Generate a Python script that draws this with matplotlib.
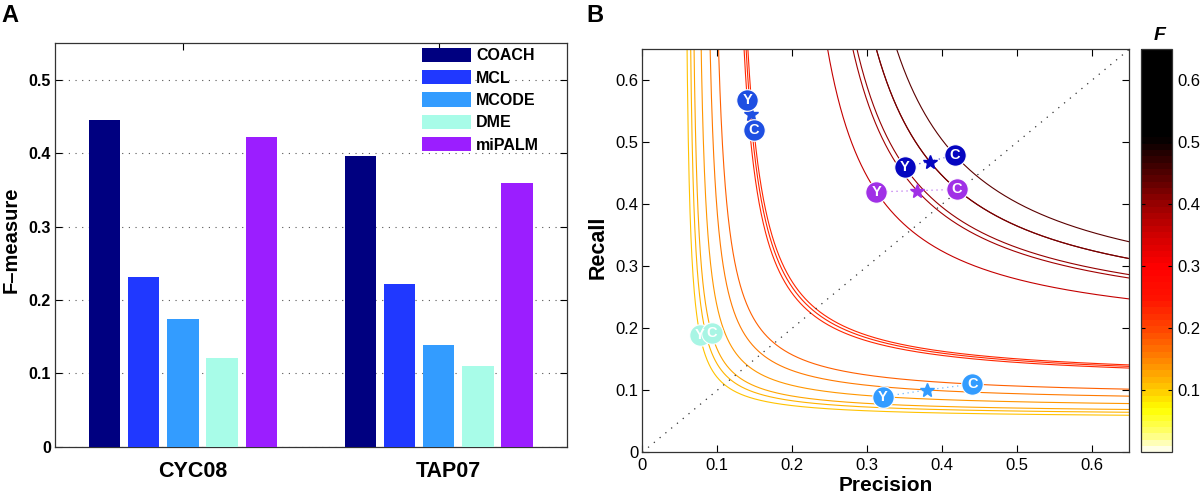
import numpy as np
import matplotlib
matplotlib.use("Agg")
import matplotlib.pyplot as plt
import matplotlib.transforms as mtransforms
from matplotlib.colors import ListedColormap, LinearSegmentedColormap, Normalize
from matplotlib.cm import ScalarMappable

plt.rcParams['font.family'] = ['Liberation Sans', 'DejaVu Sans']

# ---------------- data ----------------
methods = ['COACH', 'MCL', 'MCODE', 'DME', 'miPALM']
datasets = ['CYC08', 'TAP07']
fmeasure_cyc08 = [0.445, 0.231, 0.174, 0.121, 0.422]
fmeasure_tap07 = [0.397, 0.222, 0.138, 0.110, 0.359]
bar_colors = ['#000080', '#2038FF', '#339CFF', '#A8FCE8', '#9B1EFF']
marker_colors = ['#0505C0', '#1E4FE2', '#339CFF', '#A8F5E4', '#A030E6']

# panel B: precision / recall of each method ("Y" and "C" points, star = mid)
prec_Y = [0.350, 0.140, 0.321, 0.077, 0.3125]
rec_Y = [0.4606, 0.569, 0.0897, 0.189, 0.420]
prec_C = [0.417, 0.149, 0.4405, 0.0925, 0.420]
rec_C = [0.4795, 0.520, 0.110, 0.192, 0.424]
prec_star = [0.3836, 0.1445, 0.380, 0.085, 0.3667]
rec_star = [0.469, 0.545, 0.1005, 0.190, 0.422]

cbar_ticks = [0.1, 0.2, 0.3, 0.4, 0.5, 0.6]
pr_ticks = [0, 0.1, 0.2, 0.3, 0.4, 0.5, 0.6]
f_ticks = [0, 0.1, 0.2, 0.3, 0.4, 0.5]

# colour scale of F (anchors)
cmap_F = [0.00, 0.03, 0.07, 0.10, 0.15, 0.20, 0.25, 0.30, 0.35, 0.40, 0.45, 0.51, 0.65]
cmap_rgb = [(1, 1, 1), (1, 1, 0.45), (1, 1, 0), (1, 0.80, 0), (1, 0.52, 0),
            (1, 0.27, 0), (1, 0.07, 0), (1, 0, 0), (0.82, 0, 0), (0.6, 0, 0),
            (0.32, 0, 0), (0, 0, 0), (0, 0, 0)]
F_max = 0.65

# ---------------- figure ----------------
W, H = 1200, 500
fig = plt.figure(figsize=(12, 5), dpi=100)


def fx(px):
    return px / W


def fy(py):
    return 1 - py / H


# ---------- Panel A ----------
axA = fig.add_axes([fx(55), fy(446.7), fx(566.7 - 55), (446.7 - 43.3) / H])
slot = 0.153
bw = 0.1225
x = np.array([1, 2])
handles = []
for k, m in enumerate(methods):
    vals = [fmeasure_cyc08[k], fmeasure_tap07[k]]
    b = axA.bar(x + (k - 2) * slot, vals, width=bw, color=bar_colors[k],
                edgecolor='none', label=m, zorder=3)
    handles.append(b)
axA.set_xlim(0.5, 2.5)
axA.set_ylim(0, 0.55)
axA.set_yticks(f_ticks)
axA.set_yticklabels(['0', '0.1', '0.2', '0.3', '0.4', '0.5'])
axA.set_xticks(x)
axA.set_xticklabels(datasets)
axA.yaxis.grid(True, linestyle=(0, (1, 5)), color='#555555', linewidth=0.8)
axA.set_axisbelow(True)
axA.tick_params(direction='in', top=True, right=True, length=5, width=0.8)
axA.tick_params(axis='y', labelsize=11.5, pad=3)
axA.tick_params(axis='x', labelsize=15.5, pad=10)
for lab in axA.get_yticklabels():
    lab.set_fontweight('bold')
offset = mtransforms.ScaledTranslation(0.10, 0, fig.dpi_scale_trans)
for lab in axA.get_xticklabels():
    lab.set_fontweight('bold')
    lab.set_transform(lab.get_transform() + offset)
for sp in axA.spines.values():
    sp.set_linewidth(0.9)
    sp.set_color('#333333')

leg = axA.legend(handles=handles, loc='upper left',
                 bbox_to_anchor=(fx(421.7), fy(47.7)),
                 bbox_transform=fig.transFigure, frameon=False,
                 borderpad=0, borderaxespad=0, handlelength=3.1,
                 handleheight=1.0, handletextpad=0.3, labelspacing=0.42,
                 prop={'weight': 'bold', 'size': 11.5})

fig.text(fx(11), fy(240), 'F\u2013measure', rotation=90, ha='center',
         va='center', fontsize=14.5, fontweight='bold')
fig.text(fx(1), fy(4), 'A', ha='left', va='top', fontsize=17,
         fontweight='bold')

# ---------- Panel B ----------
axB = fig.add_axes([fx(642.3), fy(452.3), fx(1129.3 - 642.3),
                    (452.3 - 49.3) / H])
smooth = LinearSegmentedColormap.from_list(
    'fcmap', list(zip([f / F_max for f in cmap_F], cmap_rgb)))
N = 64
cmap = ListedColormap(smooth((np.arange(N) + 0.5) / N))
norm = Normalize(0, F_max)

# iso-F curves through every point
pts_P = prec_Y + prec_C + prec_star
pts_R = rec_Y + rec_C + rec_star
for P0, R0 in zip(pts_P, pts_R):
    F = 2 * P0 * R0 / (P0 + R0)
    pmin = F * 0.7 / (1.4 - F)
    P = np.linspace(pmin, 0.66, 1500)
    R = F * P / (2 * P - F)
    axB.plot(P, R, color=cmap(norm(F)), linewidth=0.8, zorder=2)

axB.plot([0, 0.65], [0, 0.65], linestyle=(0, (1, 5)), color='#333333',
         linewidth=0.9, zorder=3)

for k in range(len(methods)):
    c = marker_colors[k]
    axB.plot([prec_Y[k], prec_star[k], prec_C[k]],
             [rec_Y[k], rec_star[k], rec_C[k]], linestyle=(0, (1, 3)),
             color=c, linewidth=0.9, alpha=0.7, zorder=4)
    axB.plot(prec_star[k], rec_star[k], marker='*', markersize=10,
             color=c, markeredgecolor=c, linestyle='none', zorder=5)
    for P0, R0, letter in [(prec_Y[k], rec_Y[k], 'Y'),
                           (prec_C[k], rec_C[k], 'C')]:
        axB.plot(P0, R0, marker='o', markersize=15.5, color=c,
                 markeredgecolor='white', markeredgewidth=0.8,
                 linestyle='none', zorder=6)
        axB.text(P0, R0, letter, color='white', fontsize=10.5,
                 fontweight='bold', ha='center', va='center', zorder=7)

axB.set_xlim(0, 0.65)
axB.set_ylim(0, 0.65)
axB.set_xticks(pr_ticks)
axB.set_yticks(pr_ticks)
labs = ['0', '0.1', '0.2', '0.3', '0.4', '0.5', '0.6']
axB.set_xticklabels(labs)
axB.set_yticklabels(labs)
axB.tick_params(direction='in', top=True, right=True, length=5, width=0.8,
                labelsize=12)
axB.tick_params(axis='x', pad=4)
axB.tick_params(axis='y', pad=3)
for sp in axB.spines.values():
    sp.set_linewidth(0.9)
    sp.set_color('#333333')

fig.text(fx(885.8), fy(491), 'Precision', ha='center', va='baseline',
         fontsize=15, fontweight='bold')
fig.text(fx(598), fy(247), 'Recall', ha='center', va='center',
         rotation=90, fontsize=15.5, fontweight='bold')
fig.text(fx(586), fy(4), 'B', ha='left', va='top', fontsize=17,
         fontweight='bold')

# ---------- colorbar ----------
cax = fig.add_axes([fx(1140.7), fy(452.3), fx(31), (452.3 - 49.3) / H])
sm = ScalarMappable(norm=norm, cmap=cmap)
cb = fig.colorbar(sm, cax=cax)
cb.set_ticks(cbar_ticks)
cb.set_ticklabels(['0.1', '0.2', '0.3', '0.4', '0.5', '0.6'])
cax.tick_params(direction='in', length=3, width=0.8, labelsize=12, pad=4,
                left=True)
cb.outline.set_linewidth(0.9)
cb.outline.set_edgecolor('#333333')
fig.text(fx(1160), fy(36), 'F', ha='center', va='center', fontsize=14,
         fontweight='bold', fontstyle='italic')

fig.savefig('out.png', dpi=100)
